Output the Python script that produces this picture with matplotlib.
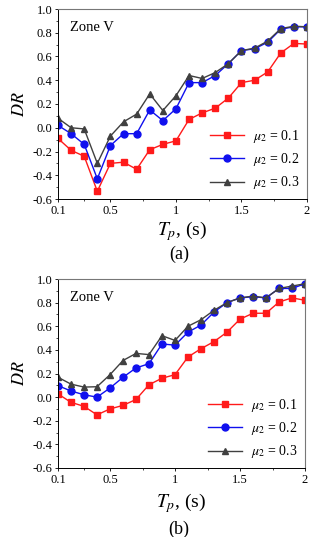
import matplotlib
matplotlib.use("Agg")
import matplotlib.pyplot as plt
import numpy as np
from matplotlib.ticker import FixedLocator, MultipleLocator

plt.rcParams["font.family"] = ["Liberation Serif", "DejaVu Serif"]
plt.rcParams["mathtext.fontset"] = "stix"

# periods (s)
tp = [0.1, 0.2, 0.3, 0.4, 0.5, 0.6, 0.7, 0.8, 0.9, 1.0,
      1.1, 1.2, 1.3, 1.4, 1.5, 1.6, 1.7, 1.8, 1.9, 2.0]

# panel (a)
dr_a_01 = [-0.09, -0.19, -0.24, -0.535, -0.30, -0.29, -0.35, -0.185, -0.14, -0.11,
           0.07, 0.125, 0.165, 0.25, 0.38, 0.40, 0.47, 0.63, 0.71, 0.705]
dr_a_02 = [0.02, -0.05, -0.14, -0.43, -0.15, -0.05, -0.05, 0.15, 0.06, 0.16,
           0.38, 0.38, 0.44, 0.54, 0.65, 0.665, 0.72, 0.83, 0.85, 0.85]
dr_a_03 = [0.08, 0.0, -0.01, -0.30, -0.07, 0.05, 0.115, 0.285, 0.145, 0.27,
           0.44, 0.415, 0.465, 0.54, 0.65, 0.67, 0.73, 0.835, 0.855, 0.85]

# panel (b)
dr_b_01 = [0.027, -0.044, -0.078, -0.15, -0.10, -0.07, -0.02, 0.105, 0.16, 0.19,
           0.34, 0.41, 0.47, 0.55, 0.66, 0.71, 0.71, 0.805, 0.84, 0.82]
dr_b_02 = [0.097, 0.052, 0.02, 0.0, 0.077, 0.168, 0.247, 0.283, 0.45, 0.44,
           0.55, 0.61, 0.72, 0.80, 0.84, 0.85, 0.84, 0.92, 0.92, 0.96]
dr_b_03 = [0.168, 0.11, 0.085, 0.088, 0.19, 0.31, 0.37, 0.36, 0.52, 0.48,
           0.60, 0.655, 0.735, 0.80, 0.84, 0.855, 0.84, 0.92, 0.94, 0.96]

labels = [r"$\mu_2$ = 0.1", r"$\mu_2$ = 0.2", r"$\mu_2$ = 0.3"]
colors = ["#ff1a1a", "#1010ee", "#404040"]
markers = ["s", "o", "^"]

fig = plt.figure(figsize=(3.13, 5.37), dpi=100)
W, H = 313, 537

panels = [
    ([dr_a_01, dr_a_02, dr_a_03], (58, 9, 307, 199), "(a)", 231, 254),
    ([dr_b_01, dr_b_02, dr_b_03], (58, 279, 305, 468), "(b)", 503, 529),
]

for series, (l, t, r, b), tag, xl_y, tag_y in panels:
    ax = fig.add_axes([l / W, 1 - b / H, (r - l) / W, (b - t) / H])
    for vals, c, m, lab in zip(series, colors, markers, labels):
        ax.plot(tp, vals, color=c, marker=m, markersize=5, linewidth=1.0,
                label=lab)
    ax.set_xlim(0.1, 2.0)
    ax.set_ylim(-0.6, 1.0)
    ax.xaxis.set_major_locator(FixedLocator([0.1, 0.5, 1.0, 1.5, 2.0]))
    ax.set_xticklabels(["0.1", "0.5", "1", "1.5", "2"])
    ax.xaxis.set_minor_locator(FixedLocator([0.3, 0.75, 1.25, 1.75]))
    ax.yaxis.set_major_locator(MultipleLocator(0.2))
    ax.yaxis.set_minor_locator(MultipleLocator(0.1))
    ax.yaxis.set_major_formatter(plt.FuncFormatter(lambda v, p: f"{v:.1f}"))
    ax.tick_params(labelsize=9, length=2.5, width=0.6, pad=1.5)
    ax.tick_params(which="minor", length=1.5, width=0.5)
    for s in ["top", "right"]:
        ax.spines[s].set_color("#777777")
        ax.spines[s].set_linewidth(0.8)
    for s in ["left", "bottom"]:
        ax.spines[s].set_linewidth(0.7)
    ax.set_ylabel(r"$DR$", fontsize=13, labelpad=3)
    ax.text(0.05, 0.935, "Zone V", transform=ax.transAxes, fontsize=10.5,
            va="top", ha="left")
    ax.legend(loc="lower right", frameon=False, fontsize=10,
              handlelength=2.5, handletextpad=0.6, labelspacing=0.45,
              borderaxespad=0.15)
    fig.text((l + r) / 2 / W, 1 - xl_y / H, r"$T_p$, (s)", fontsize=14,
             ha="center", va="center")
    fig.text((l + r) / 2 / W - 0.01, 1 - tag_y / H, tag, fontsize=13,
             ha="center", va="center")

fig.savefig("out.png", dpi=100)
